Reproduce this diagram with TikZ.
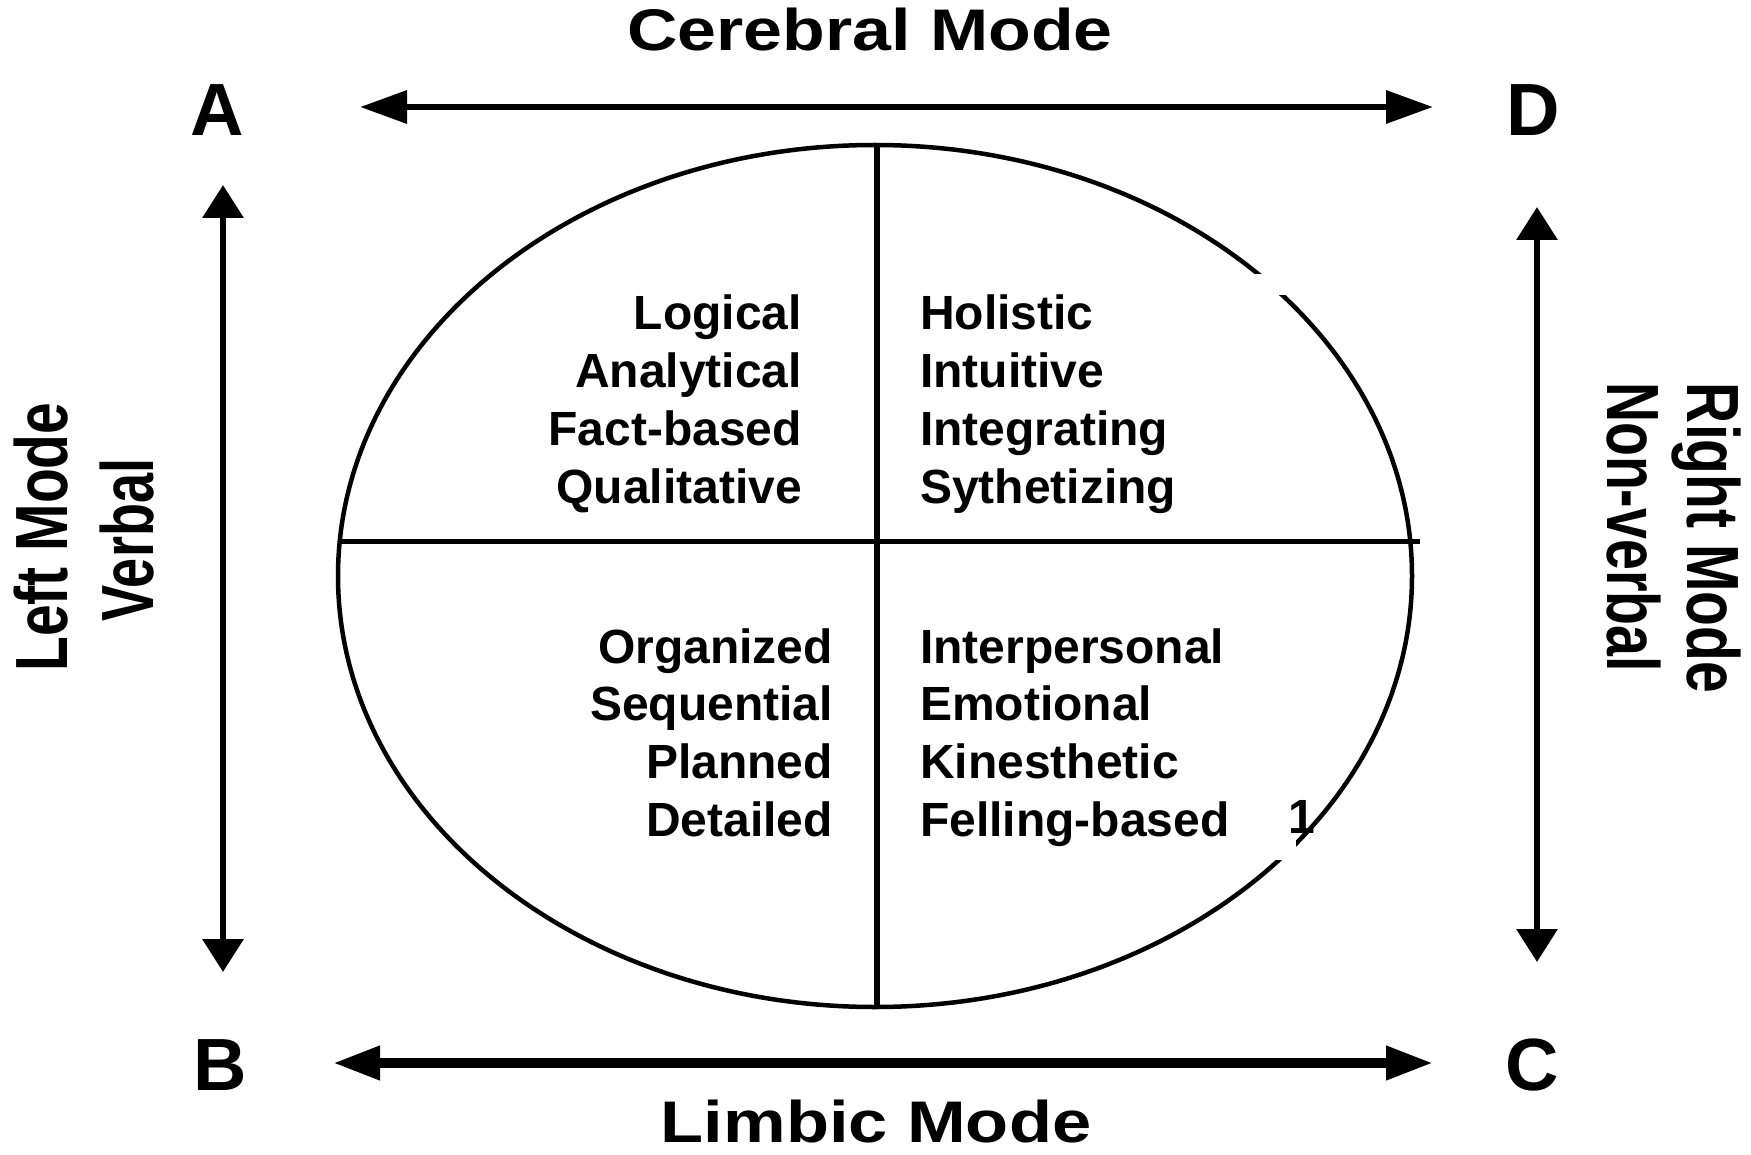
\documentclass[tikz,border=0pt]{standalone}
\usepackage{fontspec}
\usepackage{graphicx}
\setmainfont{Liberation Sans}
\usetikzlibrary{arrows.meta}
\begin{document}
\begin{tikzpicture}[x=1pt,y=-1pt,
  qtext/.style={font=\bfseries\fontsize{48}{58}\selectfont, inner sep=0pt},
  corner/.style={font=\bfseries\fontsize{74}{80}\selectfont, inner sep=0pt, anchor=base},
  hmode/.style={font=\bfseries\fontsize{58.7}{64}\selectfont, inner sep=0pt, anchor=base},
  vmode/.style={font=\bfseries\fontsize{74}{80}\selectfont, inner sep=0pt, anchor=base},
  harrow/.style={{Triangle[length=47pt,width=32pt]}-{Triangle[length=47pt,width=32pt]}, line width=6.5pt},
  varrow/.style={{Triangle[length=33pt,width=40pt]}-{Triangle[length=33pt,width=40pt]}, line width=6.5pt}]
\useasboundingbox (0,0) rectangle (1751,1155);
\fill[white] (0,0) rectangle (1751,1155);

% ellipse and quadrant lines
\coordinate (ec) at (875,576);
\draw[line width=4.5pt] (ec) ellipse [x radius=537, y radius=431];
\fill[white] (1252,274) rectangle (1290,295);
\fill[white] (1262,838) rectangle (1296,860);
\coordinate (etop) at (877,145);
\coordinate (ebot) at (877,1005);
\coordinate (eleft) at (340,541);
\coordinate (eright) at (1420,541);
\draw[line width=6.5pt] (etop) -- (ebot);
\draw[line width=5pt] (eleft) -- (eright);

% corner letters
\node[corner] (A) at (217,136) {A};
\node[corner] (D) at (1533,136) {D};
\node[corner] (B) at (220,1090) {B};
\node[corner] (C) at (1532,1090) {C};

% arrows
\coordinate (tl) at (360,107);
\coordinate (tr) at (1433,107);
\draw[harrow] (tl) -- (tr);
\coordinate (bl) at (333,1063);
\coordinate (br) at (1433,1063);
\draw[harrow, line width=10pt] (bl) -- (br);
\coordinate (lt) at (223,185);
\coordinate (lb) at (223,972);
\draw[varrow] (lt) -- (lb);
\coordinate (rt) at (1537,207);
\coordinate (rb) at (1537,962);
\draw[varrow] (rt) -- (rb);

% mode titles
\node[hmode] (cerebral) at (870,51) {\scalebox{1.19}[1]{Cerebral Mode}};
\node[hmode] (limbic) at (876,1142) {\scalebox{1.2}[1]{Limbic Mode}};
\node[vmode, rotate=90] (leftmode) at (67,537) {\scalebox{0.77}[1]{Left Mode}};
\node[vmode, rotate=90] (verbal) at (153,540) {\scalebox{0.73}[1]{Verbal}};
\node[vmode, rotate=-90] (rightmode) at (1687,538) {\scalebox{0.77}[1]{Right Mode}};
\node[vmode, rotate=-90] (nonverbal) at (1607,527) {\scalebox{0.75}[1]{Non-verbal}};

% quadrant texts
\foreach \t [count=\i] in {Logical,Analytical,Fact-based,Qualitative}
  \node[qtext, anchor=base east] (ul\i) at (802,{330+57.7*(\i-1)}) {\t};
\foreach \t [count=\i] in {Holistic,Intuitive,Integrating,Sythetizing}
  \node[qtext, anchor=base west] (ur\i) at (920,{330+57.7*(\i-1)}) {\t};
\foreach \t [count=\i] in {Organized,Sequential,Planned,Detailed}
  \node[qtext, anchor=base east] (ll\i) at (833,{663+57.7*(\i-1)}) {\t};
\foreach \t [count=\i] in {Interpersonal,Emotional,Kinesthetic,Felling-based}
  \node[qtext, anchor=base west] (lr\i) at (920,{663+57.7*(\i-1)}) {\t};
\node[qtext, anchor=base] (one) at (1302,833) {1};
\end{tikzpicture}
\end{document}
